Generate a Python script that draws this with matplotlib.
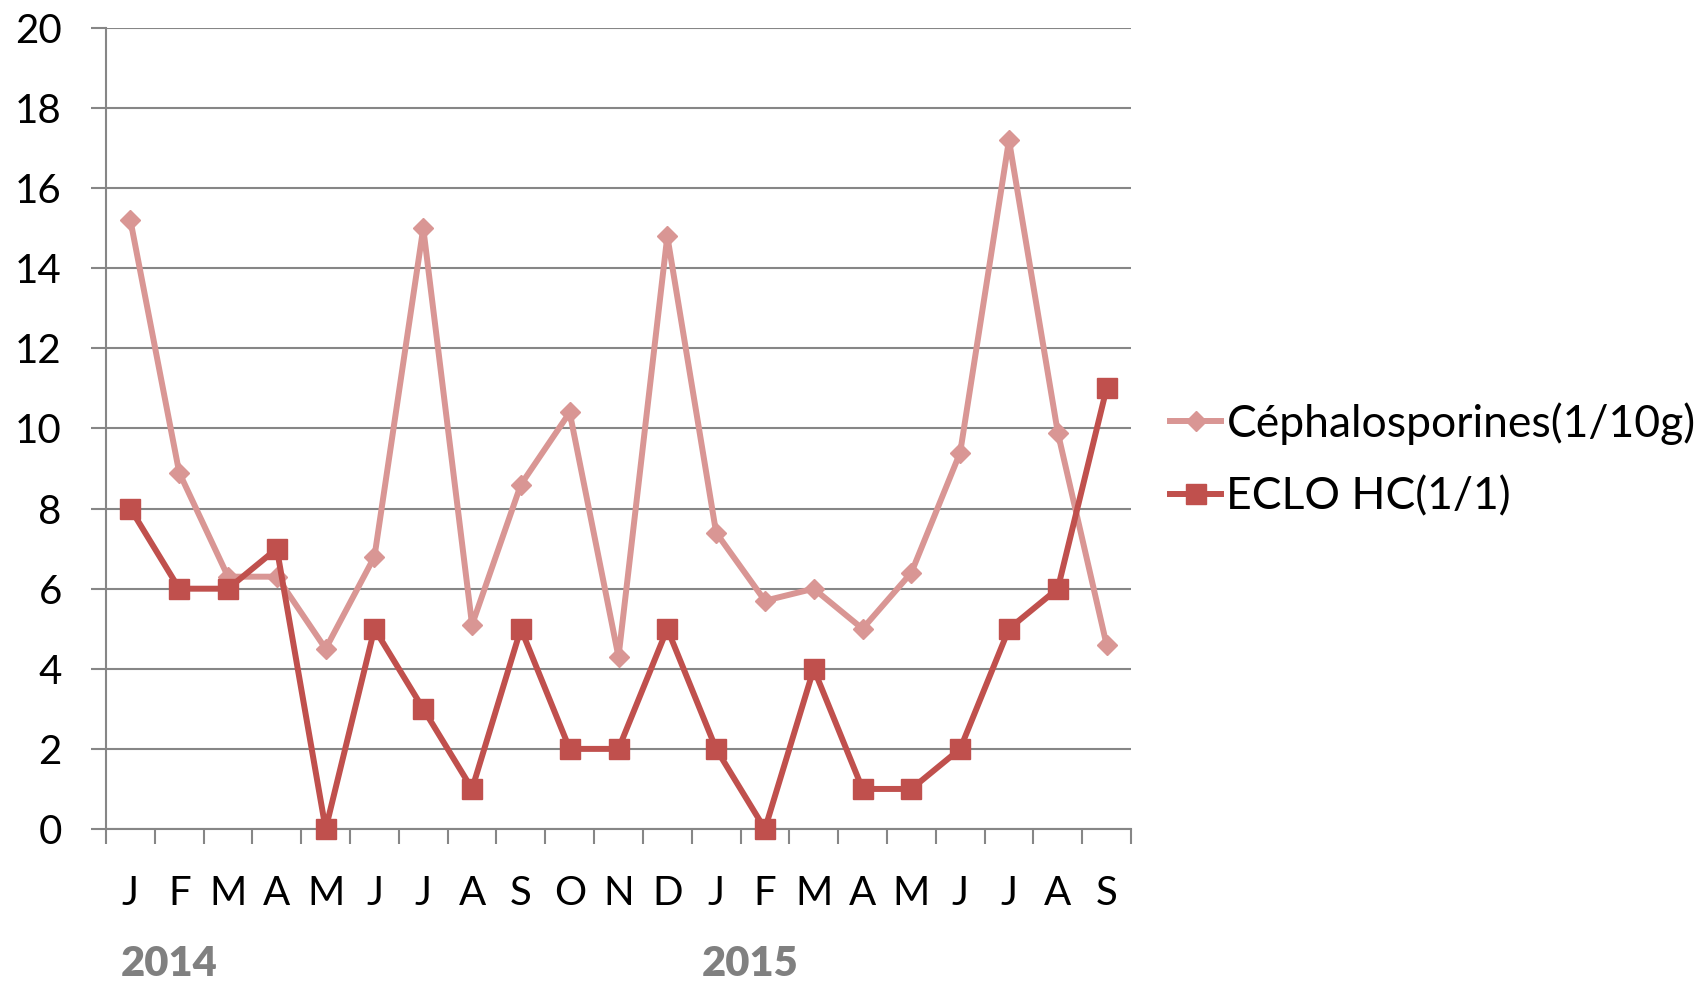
import matplotlib
matplotlib.use("Agg")
import matplotlib.pyplot as plt
import matplotlib.transforms as mtransforms
import numpy as np

plt.rcParams['font.family'] = ['Lato', 'DejaVu Sans']

months = ["J", "F", "M", "A", "M", "J", "J", "A", "S", "O", "N", "D",
          "J", "F", "M", "A", "M", "J", "J", "A", "S"]
years = ["2014", "2015"]
year_label_pos = [0.8, 12.7]

cephalosporines = [15.2, 8.9, 6.3, 6.3, 4.5, 6.8, 15.0, 5.1, 8.6, 10.4, 4.3, 14.8,
                   7.4, 5.7, 6.0, 5.0, 6.4, 9.4, 17.2, 9.9, 4.6]
eclo_hc = [8, 6, 6, 7, 0, 5, 3, 1, 5, 2, 2, 5,
           2, 0, 4, 1, 1, 2, 5, 6, 11]

series_names = ["Céphalosporines(1/10g)", "ECLO HC(1/1)"]

pink = "#D99694"
red = "#C0504D"
grid_gray = "#868686"

W, H = 1702, 983
fig = plt.figure(figsize=(W / 100, H / 100), dpi=100)
ax = fig.add_axes([106 / W, 1 - 829 / H, (1131 - 106) / W, (829 - 28) / H])

x = np.arange(len(months))
ax.plot(x, cephalosporines, color=pink, lw=4.3, marker="D", markersize=10.5,
        markeredgecolor=pink, markerfacecolor=pink, label=series_names[0],
        solid_joinstyle="round", zorder=3, clip_on=False)
ax.plot(x, eclo_hc, color=red, lw=4.3, marker="s", markersize=14,
        markeredgecolor=red, markerfacecolor=red, label=series_names[1],
        solid_joinstyle="round", zorder=4, clip_on=False)

ax.set_xlim(-0.5, len(months) - 0.5)
ax.set_ylim(0, 20)

# y axis: gridlines every 2 with outward ticks
ax.set_yticks(np.arange(0, 21, 2))
ax.yaxis.grid(True, color=grid_gray, lw=1.5)
ax.set_axisbelow(True)
ax.tick_params(axis="y", direction="out", length=10.8, width=1.5, color=grid_gray,
               labelsize=29, pad=21)

# x axis: month labels at centres, tick marks at category boundaries
ax.set_xticks(x)
ax.set_xticklabels(months)
ax.set_xticks(np.arange(-0.5, len(months), 1), minor=True)
ax.tick_params(axis="x", which="major", length=0, labelsize=29, pad=33)
ax.tick_params(axis="x", which="minor", direction="out", length=10.8, width=1.5,
               color=grid_gray)

for side in ["top", "right"]:
    ax.spines[side].set_visible(False)
for side in ["left", "bottom"]:
    ax.spines[side].set_color(grid_gray)
    ax.spines[side].set_linewidth(1.5)
    ax.spines[side].set_zorder(2)

# year labels below the months
year_tf = mtransforms.blended_transform_factory(ax.transData, fig.transFigure)
for yr, pos in zip(years, year_label_pos):
    ax.text(pos, 1 - 964 / H, yr, transform=year_tf,
            ha="center", va="center", fontsize=30, fontweight="heavy", color="#808080")

leg = ax.legend(loc="center left", bbox_to_anchor=(1170 / W, 1 - 460 / H),
                bbox_transform=fig.transFigure, frameon=False, fontsize=32,
                handlelength=1.15, handletextpad=0.12, borderpad=0, borderaxespad=0,
                labelspacing=0.72)

fig.savefig("out.png", dpi=100)
